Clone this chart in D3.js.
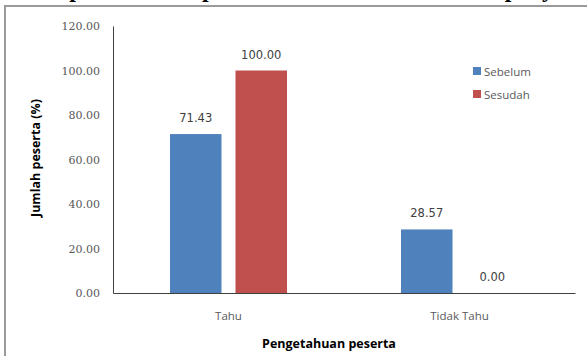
<!DOCTYPE html>
<html>
<head>
<meta charset="utf-8">
<script src="https://cdn.jsdelivr.net/npm/d3@7"></script>
<style>
  body { margin: 0; background: #fff; }
  svg { display: block; }
</style>
</head>
<body>
<div id="chart"></div>
<script>
// data
const categories = ["Tahu", "Tidak Tahu"];
const seriesNames = ["Sebelum", "Sesudah"];
const sebelum = [71.43, 28.57];
const sesudah = [100.00, 0.00];
const yTicks = [0, 20, 40, 60, 80, 100, 120];
const colors = ["#4F81BD", "#C0504D"];

const width = 587, height = 356;
const plot = { left: 113, right: 575, top: 26, bottom: 293 };

const svg = d3.select("#chart").append("svg")
    .attr("width", width)
    .attr("height", height);

// outer chart border (partly cropped in the original)
svg.append("rect")
    .attr("x", 5).attr("y", 6)
    .attr("width", 640).attr("height", 420)
    .attr("fill", "none")
    .attr("stroke", "#9a9a9a")
    .attr("stroke-width", 2);

// title, cut off above the frame in the original (only descenders show)
svg.append("text")
    .attr("x", 318).attr("y", -3)
    .attr("text-anchor", "middle")
    .style("font-family", "'Liberation Serif', serif")
    .style("font-weight", "bold")
    .style("font-size", "24px")
    .text("Hasil pemahaman peserta sebelum dan sesudah penyuluhan");

// scales
const x0 = d3.scaleBand()
    .domain(categories)
    .range([plot.left, plot.right])
    .paddingInner(0.4935)
    .paddingOuter(0.4935 / 2);

const x1 = d3.scaleBand()
    .domain(seriesNames)
    .range([0, x0.bandwidth()])
    .paddingInner(0.2137);

const y = d3.scaleLinear()
    .domain([0, 120])
    .range([plot.bottom, plot.top]);

// y axis
const yAxis = svg.append("g")
    .attr("transform", `translate(${plot.left},0)`)
    .call(d3.axisLeft(y).tickValues(yTicks).tickSize(0).tickPadding(13).tickFormat(d3.format(".2f")));
yAxis.select(".domain").attr("stroke", "#404040").attr("stroke-width", 1);
yAxis.selectAll("text")
    .attr("fill", "#595959")
    .style("font-family", "'DejaVu Serif', serif")
    .style("font-size", "11px");

// x axis
const xAxis = svg.append("g")
    .attr("transform", `translate(0,${plot.bottom})`)
    .call(d3.axisBottom(x0).tickSize(0).tickPadding(19));
xAxis.select(".domain").attr("stroke", "#404040").attr("stroke-width", 1.2);
xAxis.selectAll("text")
    .attr("fill", "#595959")
    .style("font-family", "'Open Sans', sans-serif")
    .style("font-size", "11.5px");

// bars
const rows = categories.map((c, i) => ({ cat: c, vals: [sebelum[i], sesudah[i]] }));

const groups = svg.selectAll(".grp")
    .data(rows)
    .enter().append("g")
    .attr("class", "grp")
    .attr("transform", d => `translate(${x0(d.cat)},0)`);

groups.selectAll("rect")
    .data(d => d.vals.map((v, j) => ({ name: seriesNames[j], v: v, j: j })))
    .enter().append("rect")
    .attr("x", d => x1(d.name))
    .attr("y", d => y(d.v))
    .attr("width", x1.bandwidth())
    .attr("height", d => y(0) - y(d.v))
    .attr("fill", d => colors[d.j]);

groups.selectAll(".lbl")
    .data(d => d.vals.map((v, j) => ({ name: seriesNames[j], v: v })))
    .enter().append("text")
    .attr("class", "lbl")
    .attr("x", d => x1(d.name) + x1.bandwidth() / 2)
    .attr("y", d => y(d.v) - 12)
    .attr("text-anchor", "middle")
    .attr("fill", "#404040")
    .style("font-family", "'DejaVu Sans', sans-serif")
    .style("font-size", "11.5px")
    .text(d => d3.format(".2f")(d.v));

// axis titles
svg.append("text")
    .attr("transform", "translate(40,158) rotate(-90)")
    .attr("text-anchor", "middle")
    .style("font-family", "'Open Sans', sans-serif")
    .style("font-weight", "bold")
    .style("font-size", "12.5px")
    .text("Jumlah peserta (%)");

svg.append("text")
    .attr("x", 329).attr("y", 348)
    .attr("text-anchor", "middle")
    .style("font-family", "'Open Sans', sans-serif")
    .style("font-weight", "bold")
    .style("font-size", "12.5px")
    .text("Pengetahuan peserta");

// legend
const legend = svg.selectAll(".leg")
    .data(seriesNames)
    .enter().append("g")
    .attr("class", "leg")
    .attr("transform", (d, i) => `translate(473,${71 + i * 23})`);

legend.append("rect")
    .attr("x", 0).attr("y", -4)
    .attr("width", 8).attr("height", 8)
    .attr("fill", (d, i) => colors[i]);

legend.append("text")
    .attr("x", 11).attr("y", 4.5)
    .attr("fill", "#595959")
    .style("font-family", "'Open Sans', sans-serif")
    .style("font-size", "11.5px")
    .text(d => d);
</script>
</body>
</html>
